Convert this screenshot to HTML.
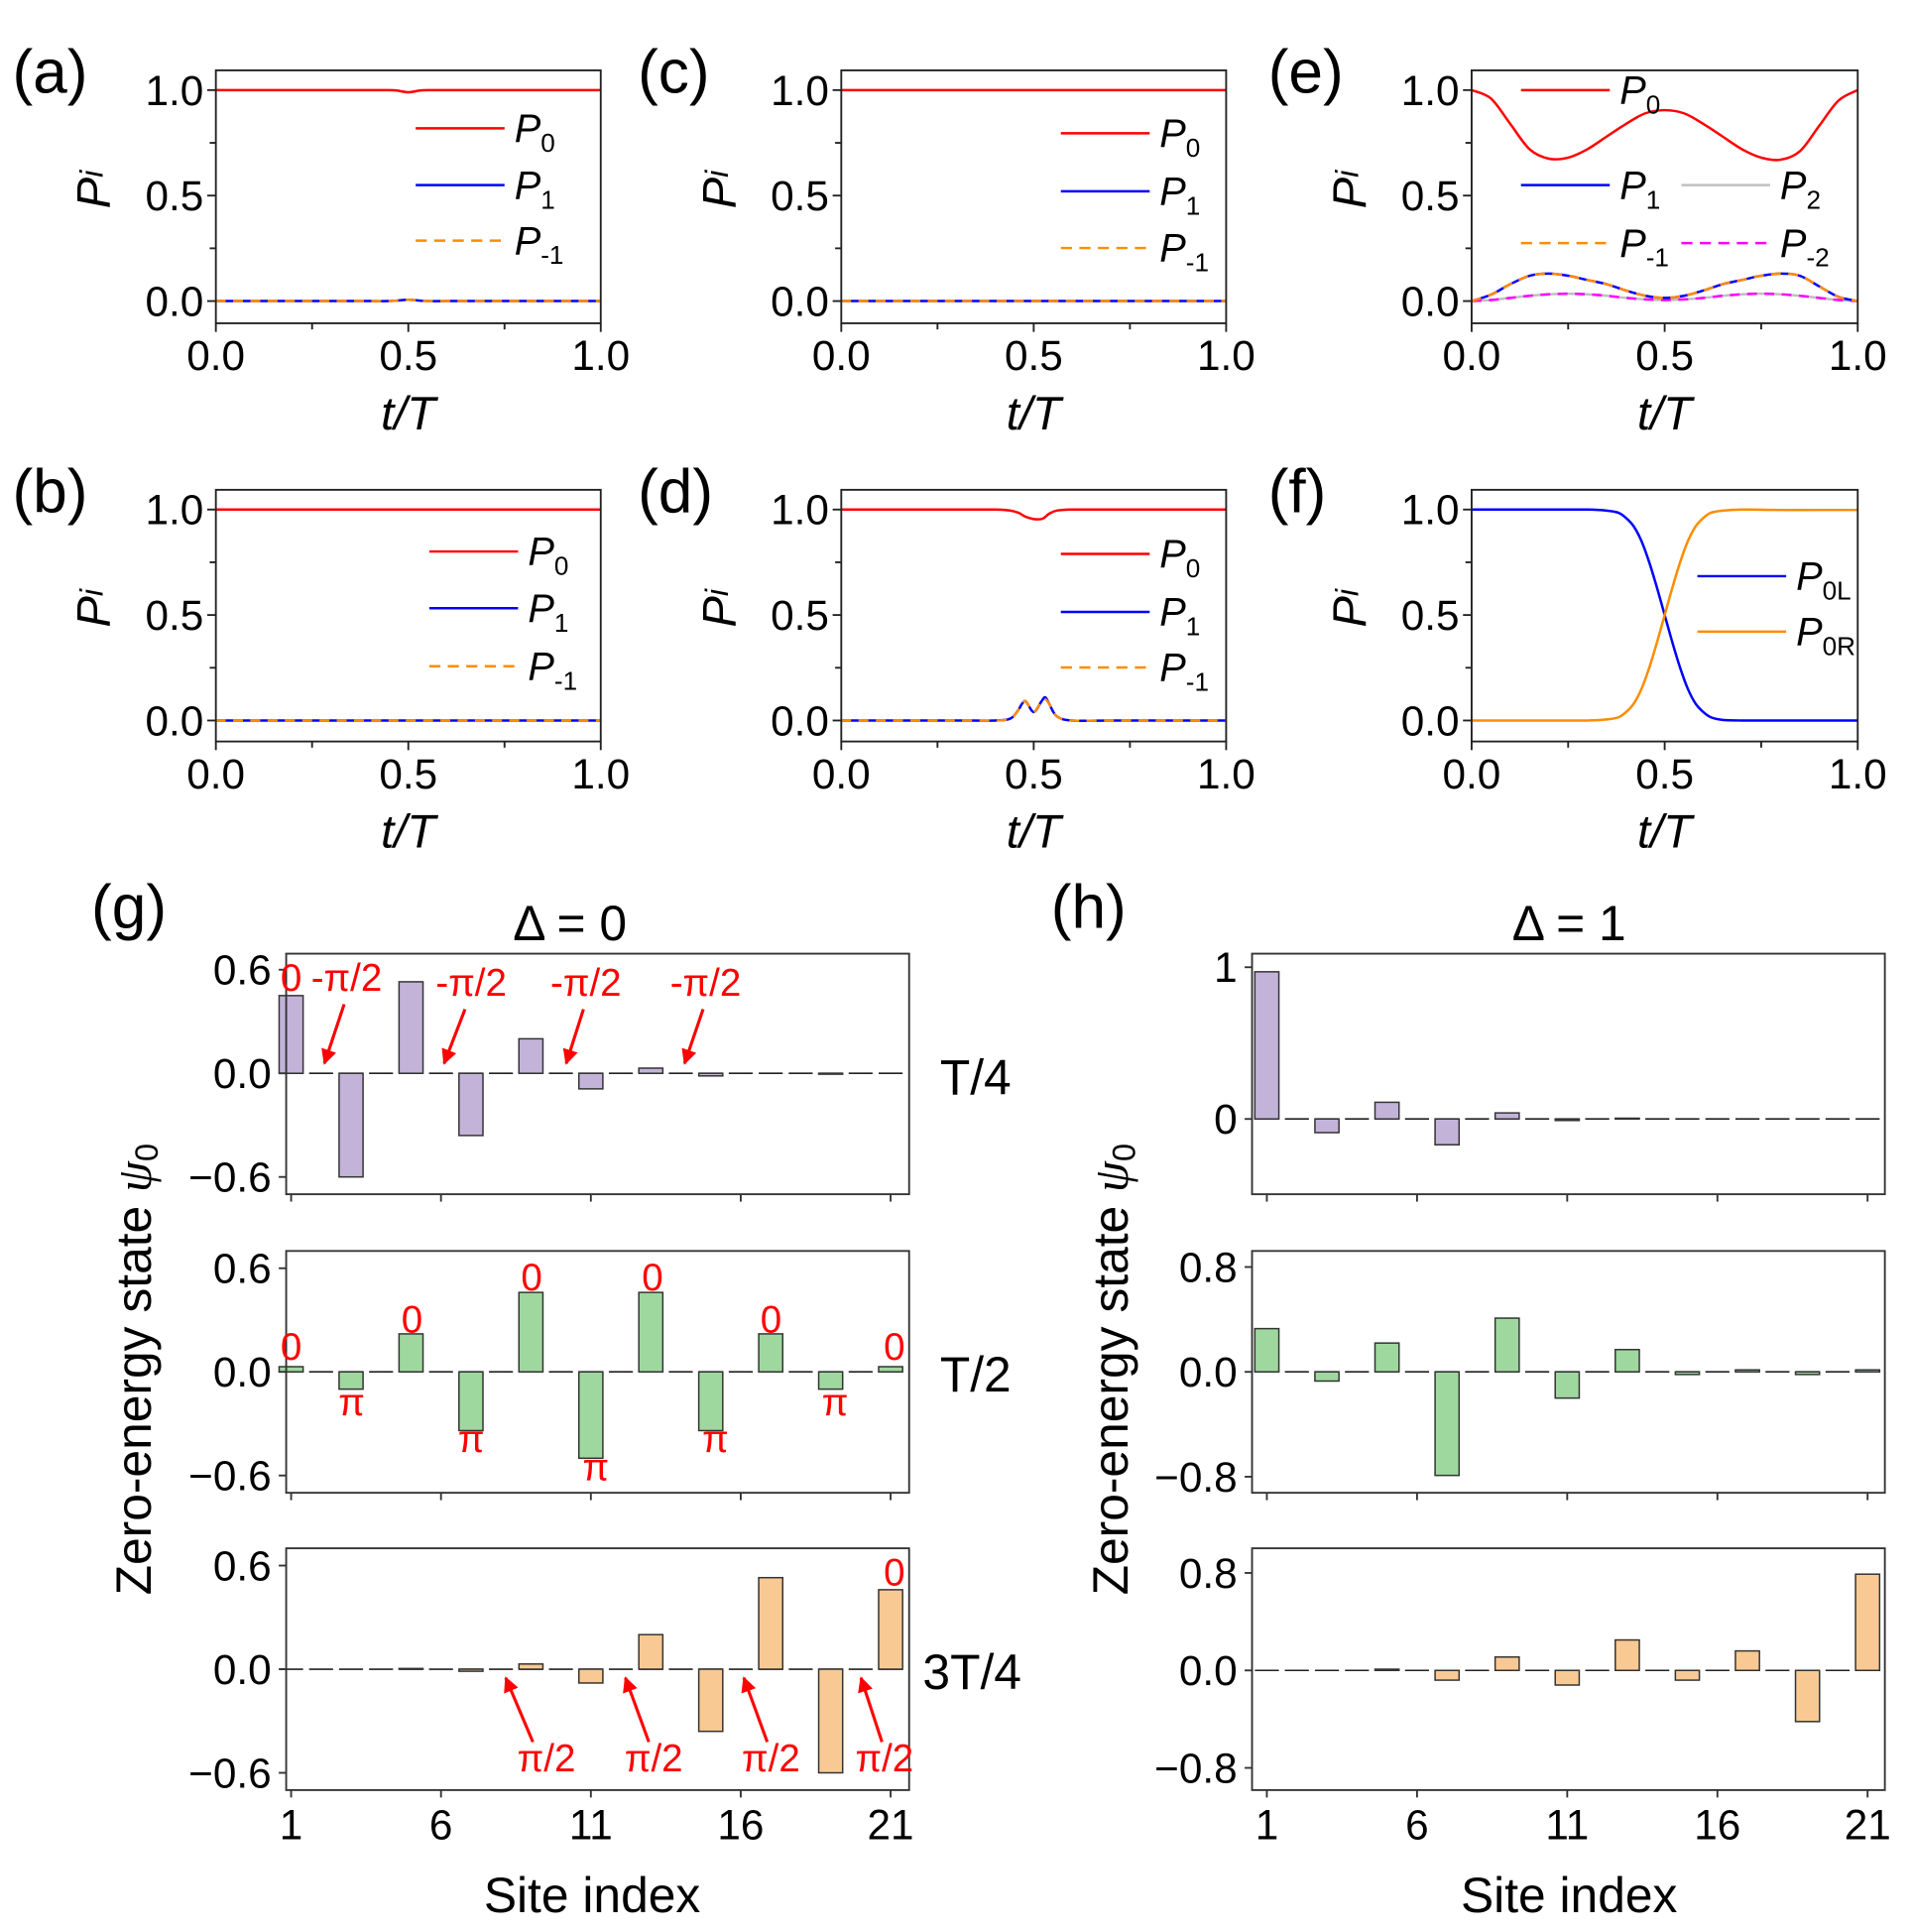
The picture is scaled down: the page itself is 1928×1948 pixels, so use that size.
<!DOCTYPE html>
<html><head><meta charset="utf-8">
<style>
html,body{margin:0;padding:0;background:#fff;}
svg{display:block;font-family:"Liberation Sans",sans-serif;}
</style></head>
<body>
<svg id="fig" width="1928" height="1948" viewBox="0 0 1550 1566" xmlns="http://www.w3.org/2000/svg"></svg>
<script>
// ---------- data ----------
const tA = [0,0.1,0.2,0.3,0.4,0.45,0.47,0.5,0.53,0.55,0.6,0.7,0.8,0.9,1];
const aP0 = [1,1,1,1,1,1,0.998,0.99,0.998,1,1,1,1,1,1];
const aP1 = [0,0,0,0,0,0,0.002,0.006,0.002,0,0,0,0,0,0];
const tB = [0,0.25,0.5,0.75,1];
const bP0 = [1,1,1,1,1];
const bP1 = [0,0,0,0,0];
const tC = [0,0.25,0.5,0.75,1];
const cP0 = [1,1,1,1,1];
const cP1 = [0,0,0,0,0];
const tD = [0,0.1,0.2,0.3,0.4,0.44,0.46,0.47,0.48,0.5,0.52,0.53,0.54,0.56,0.6,0.7,0.8,0.9,1];
const dP0 = [1,1,1,1,1,0.995,0.985,0.975,0.965,0.955,0.955,0.965,0.98,0.995,1,1,1,1,1];
const dP1 = [0,0,0,0,0,0.01,0.05,0.08,0.09,0.04,0.09,0.11,0.08,0.02,0,0,0,0,0];
const dPm1 = [0,0,0,0,0,0.01,0.05,0.08,0.09,0.04,0.09,0.10,0.08,0.02,0,0,0,0,0];
const tE = [0,0.05,0.1,0.15,0.2,0.25,0.3,0.35,0.4,0.45,0.5,0.55,0.6,0.65,0.7,0.75,0.8,0.85,0.9,0.95,1];
const eP0 = [1,0.96,0.84,0.72,0.675,0.68,0.72,0.78,0.84,0.89,0.905,0.89,0.84,0.78,0.72,0.68,0.67,0.71,0.83,0.95,1];
const eP1 = [0,0.03,0.08,0.12,0.13,0.12,0.1,0.08,0.05,0.025,0.015,0.025,0.05,0.08,0.1,0.12,0.13,0.12,0.07,0.02,0];
const eP2 = [0,0.005,0.015,0.025,0.032,0.035,0.032,0.025,0.015,0.008,0.005,0.008,0.015,0.025,0.032,0.035,0.032,0.025,0.015,0.005,0];
const tF = [0,0.1,0.2,0.3,0.35,0.38,0.4,0.42,0.44,0.46,0.48,0.5,0.52,0.54,0.56,0.58,0.6,0.62,0.65,0.7,0.8,0.9,1];
const fP0L = [1,1,1,1,0.995,0.985,0.96,0.92,0.85,0.75,0.63,0.5,0.37,0.25,0.15,0.08,0.04,0.015,0.003,0,0,0,0];
const fP0R = [0,0,0,0,0.005,0.015,0.04,0.08,0.15,0.25,0.37,0.5,0.63,0.75,0.85,0.92,0.96,0.985,0.995,1,0.998,0.998,0.998];
const timeTicks = ["0.0","0.5","1.0"];
const probTicks = ["0.0","0.5","1.0"];

const sites = [1,2,3,4,5,6,7,8,9,10,11,12,13,14,15,16,17,18,19,20,21];
const g1 = [0.45,0,-0.6,0,0.53,0,-0.36,0,0.2,0,-0.09,0,0.03,0,-0.015,0,0,0,-0.005,0,0];
const g2 = [0.03,0,-0.1,0,0.22,0,-0.34,0,0.46,0,-0.5,0,0.46,0,-0.34,0,0.22,0,-0.1,0,0.03];
const g3 = [0,0,0,0,0.004,0,-0.012,0,0.03,0,-0.08,0,0.2,0,-0.36,0,0.53,0,-0.6,0,0.46];
const h1 = [0.97,0,-0.09,0,0.11,0,-0.17,0,0.04,0,-0.01,0,0.005,0,0,0,0,0,0,0,0];
const h2 = [0.33,0,-0.07,0,0.22,0,-0.79,0,0.41,0,-0.2,0,0.17,0,-0.02,0,0.015,0,-0.02,0,0.015];
const h3 = [0,0,0,0,0.01,0,-0.08,0,0.11,0,-0.12,0,0.25,0,-0.08,0,0.16,0,-0.42,0,0.79];
const siteTicks = [1,6,11,16,21];
const gTicks = [-0.6,0,0.6];
const h1Ticks = [0,1];
const h23Ticks = [-0.8,0,0.8];

// ---------- helpers ----------
const NS="http://www.w3.org/2000/svg";
const svg=document.getElementById('fig');
function mk(tag,attrs,parent){const e=document.createElementNS(NS,tag);for(const k in attrs)e.setAttribute(k,attrs[k]);(parent||svg).appendChild(e);return e;}
function txt(x,y,s,size,parent,extra){const e=mk('text',Object.assign({x:x,y:y,'font-size':size,fill:'#000'},extra||{}),parent);e.innerHTML=s;return e;}
function smoothPath(P){
  let d='M'+P[0][0].toFixed(2)+' '+P[0][1].toFixed(2);
  for(let i=0;i<P.length-1;i++){
    const p0=P[Math.max(0,i-1)],p1=P[i],p2=P[i+1],p3=P[Math.min(P.length-1,i+2)];
    const c1x=p1[0]+(p2[0]-p0[0])/6,c1y=p1[1]+(p2[1]-p0[1])/6;
    const c2x=p2[0]-(p3[0]-p1[0])/6,c2y=p2[1]-(p3[1]-p1[1])/6;
    d+=' C'+c1x.toFixed(2)+' '+c1y.toFixed(2)+' '+c2x.toFixed(2)+' '+c2y.toFixed(2)+' '+p2[0].toFixed(2)+' '+p2[1].toFixed(2);
  }
  return d;
}

const pans=[
 {id:'a',x0:175,x1:487,yTop:57,yBot:262,y1:73,y0:244,t:tA,series:[[aP0,'#ff0000',null],[aP1,'#0000ff',null],[aP1,'#ff8c00','8,6']],leg:{x:337,ys:[104,150,195]}},
 {id:'c',x0:682,x1:994,yTop:57,yBot:262,y1:73,y0:244,t:tC,series:[[cP0,'#ff0000',null],[cP1,'#0000ff',null],[cP1,'#ff8c00','8,6']],leg:{x:860,ys:[108,155,201]}},
 {id:'e',x0:1193,x1:1506,yTop:57,yBot:262,y1:73,y0:244,t:tE,series:[[eP0,'#ff0000',null],[eP2,'#c0c0c0',null],[eP2,'#ff00ff','8,6'],[eP1,'#0000ff',null],[eP1,'#ff8c00','8,6']],leg:null},
 {id:'b',x0:175,x1:487,yTop:397,yBot:601,y1:413,y0:584,t:tB,series:[[bP0,'#ff0000',null],[bP1,'#0000ff',null],[bP1,'#ff8c00','8,6']],leg:{x:348,ys:[447,493,540]}},
 {id:'d',x0:682,x1:994,yTop:397,yBot:601,y1:413,y0:584,t:tD,series:[[dP0,'#ff0000',null],[dP1,'#0000ff',null],[dPm1,'#ff8c00','8,6']],leg:{x:860,ys:[449,496,541]}},
 {id:'f',x0:1193,x1:1506,yTop:397,yBot:601,y1:413,y0:584,t:tF,series:[[fP0L,'#0000ff',null],[fP0R,'#ff8c00',null]],leg:null}
];
const subNames={0:'<tspan font-style="italic">P</tspan><tspan font-size="21" dy="8">0</tspan>',1:'<tspan font-style="italic">P</tspan><tspan font-size="21" dy="8">1</tspan>',m1:'<tspan font-style="italic">P</tspan><tspan font-size="21" dy="8">-1</tspan>'};

pans.forEach(p=>{
  const g=mk('g',{});
  
  
  const xs=v=>p.x0+(p.x1-p.x0)*v;
  const ys=v=>p.y0+(p.y1-p.y0)*v;
  p.series.forEach((s,i)=>{
    const pts=p.t.map((t,k)=>[xs(t),ys(s[0][k])]);
    const path=mk('path',{d:smoothPath(pts),fill:'none',stroke:s[1],'stroke-width':2,'stroke-dasharray':s[2]||'none'},g);
    
    
  });
  const fr=mk('rect',{x:p.x0,y:p.yTop,width:p.x1-p.x0,height:p.yBot-p.yTop,fill:'none',stroke:'#222','stroke-width':1.5},g);
  
  
  [0,0.25,0.5,0.75,1].forEach(v=>{const x=xs(v);mk('line',{x1:x,x2:x,y1:p.yBot,y2:p.yBot+(v*4%2==0?7:5),stroke:'#222','stroke-width':1.5},g);});
  [0,0.25,0.5,0.75,1].forEach(v=>{const y=ys(v);mk('line',{x1:p.x0,x2:p.x0-(v*4%2==0?7:5),y1:y,y2:y,stroke:'#222','stroke-width':1.5},g);});
  timeTicks.forEach((s,i)=>{txt(xs(i/2),p.yBot+38,s,34,g,{'text-anchor':'middle'});});
  probTicks.forEach((s,i)=>{txt(p.x0-10,ys(i/2)+12,s,34,g,{'text-anchor':'end'});});
  const xl=txt((p.x0+p.x1)/2,p.yBot+86,'t/T',38,g,{'text-anchor':'middle','font-style':'italic'});
  
  
  const yl=txt(0,0,'P<tspan font-size="26" dy="-6">i</tspan>',38,g,{'font-style':'italic','text-anchor':'middle',transform:'translate('+(p.x0-86)+','+((p.yTop+p.yBot)/2-6)+') rotate(-90)'});
  
  
  const lab=txt(p.x0-165,p.yTop+18,'('+p.id+')',50,g);
  
  
  if(p.leg){
    const cols=['#ff0000','#0000ff','#ff8c00'],nm=[subNames[0],subNames[1],subNames.m1];
    p.leg.ys.forEach((y,i)=>{
      const le=mk('g',{},g);
      
      
      mk('line',{x1:p.leg.x,x2:p.leg.x+72,y1:y,y2:y,stroke:cols[i],'stroke-width':2,'stroke-dasharray':i==2?'9,6':'none'},le);
      txt(p.leg.x+80,y+11,nm[i],32,le);
    });
  }
});
(function(){
  const g=mk('g',{});
  
  
  const items=[[1233,73,'#ff0000',null,'0'],[1233,150,'#0000ff',null,'1'],[1363,150,'#c0c0c0',null,'2'],[1233,197,'#ff8c00','9,6','-1'],[1363,197,'#ff00ff','9,6','-2']];
  items.forEach(it=>{
    mk('line',{x1:it[0],x2:it[0]+72,y1:it[1],y2:it[1],stroke:it[2],'stroke-width':2,'stroke-dasharray':it[3]||'none'},g);
    txt(it[0]+80,it[1]+11,'<tspan font-style="italic">P</tspan><tspan font-size="21" dy="8">'+it[4]+'</tspan>',32,g);
  });
  const g2=mk('g',{});
  
  
  [[467,'#0000ff','0L'],[512,'#ff8c00','0R']].forEach(it=>{
    mk('line',{x1:1376,x2:1448,y1:it[0],y2:it[0],stroke:it[1],'stroke-width':2},g2);
    txt(1456,it[0]+11,'<tspan font-style="italic">P</tspan><tspan font-size="21" dy="8">'+it[2]+'</tspan>',32,g2);
  });
})();

// ---------- bar panels ----------
function barPanel(name,x0,x1,yTop,yBot,xFirst,xLast,yPos,vPos,yZero,vals,ticks,tickFmt,fill,showX){
  const g=mk('g',{});
  
  
  const xs=s=>xFirst+(xLast-xFirst)*(s-1)/20;
  const ys=v=>yZero+(yPos-yZero)*v/vPos;
  const bw=(xLast-xFirst)/20*0.8;
  sites.forEach((s,i)=>{
    const v=vals[i];
    mk('line',{x1:xs(s)-bw/2,x2:xs(s)+bw/2,y1:yZero,y2:yZero,stroke:'#222','stroke-width':1.3},g);
    if(Math.abs(ys(v)-yZero)>0.5){
      const r=mk('rect',{x:xs(s)-bw/2,y:Math.min(ys(v),yZero),width:bw,height:Math.abs(ys(v)-yZero),fill:fill,stroke:'#333','stroke-width':1.2},g);
      
      
    }
  });
  mk('rect',{x:x0,y:yTop,width:x1-x0,height:yBot-yTop,fill:'none',stroke:'#333','stroke-width':1.5},g);
  siteTicks.forEach(s=>{mk('line',{x1:xs(s),x2:xs(s),y1:yBot,y2:yBot+6,stroke:'#333','stroke-width':1.5},g);
    if(showX)txt(xs(s),yBot+40,String(s),34,g,{'text-anchor':'middle'});});
  ticks.forEach(v=>{const y=ys(v);mk('line',{x1:x0,x2:x0-6,y1:y,y2:y,stroke:'#333','stroke-width':1.5},g);
    txt(x0-12,y+12,tickFmt(v),34,g,{'text-anchor':'end'});});
  return g;
}
const fmt1=v=>(v<0?'\u2212':'')+Math.abs(v).toFixed(1);
const fmt0=v=>String(v);
barPanel('bars-g-T4',232,737,773,968,236,722,786,0.6,870,g1,gTicks,fmt1,'#c3b3d9',false);
barPanel('bars-g-T2',232,737,1014,1210,236,722,1028,0.6,1112,g2,gTicks,fmt1,'#9fd89f',false);
barPanel('bars-g-3T4',232,737,1255,1451,236,722,1269,0.6,1353,g3,gTicks,fmt1,'#f9c993',true);
barPanel('bars-h-T4',1015,1528,773,968,1027,1514,784,1,907,h1,h1Ticks,fmt0,'#c3b3d9',false);
barPanel('bars-h-T2',1015,1528,1014,1210,1027,1514,1027,0.8,1112,h2,h23Ticks,fmt1,'#9fd89f',false);
barPanel('bars-h-3T4',1015,1528,1255,1451,1027,1514,1275,0.8,1354,h3,h23Ticks,fmt1,'#f9c993',true);

function t2(x,y,s,size,name,extra){const e=txt(x,y,s,size,svg,extra);return e;}
t2(74,752,'(g)',50,'panel-label-g');
t2(852,752,'(h)',50,'panel-label-h');
t2(462,762,'\u0394 = 0',40,'title-g',{'text-anchor':'middle'});
t2(1272,762,'\u0394 = 1',40,'title-h',{'text-anchor':'middle'});
t2(762,887,'T/4',40,'row-label-T4');
t2(762,1128,'T/2',40,'row-label-T2');
t2(748,1369,'3T/4',40,'row-label-3T4');
t2(480,1550,'Site index',40,'x-axis-title-g',{'text-anchor':'middle'});
t2(1272,1550,'Site index',40,'x-axis-title-h',{'text-anchor':'middle'});
t2(0,0,'Zero-energy state <tspan font-style="italic" font-family="Liberation Serif">\u03C8</tspan><tspan font-size="26" dy="6">0</tspan>',40,'y-axis-title-g',{'text-anchor':'middle',transform:'translate(122,1110) rotate(-90)'});
t2(0,0,'Zero-energy state <tspan font-style="italic" font-family="Liberation Serif">\u03C8</tspan><tspan font-size="26" dy="6">0</tspan>',40,'y-axis-title-h',{'text-anchor':'middle',transform:'translate(914,1110) rotate(-90)'});

const red={fill:'#ff0000','text-anchor':'middle'};
const ann=[[236,803,'0'],[281,803,'-\u03C0/2'],[382,807,'-\u03C0/2'],[475,807,'-\u03C0/2'],[572,807,'-\u03C0/2'],
 [236,1102,'0'],[334,1080,'0'],[431,1046,'0'],[529,1046,'0'],[625,1080,'0'],[725,1102,'0'],
 [285,1147,'\u03C0'],[382,1177,'\u03C0'],[483,1200,'\u03C0'],[580,1177,'\u03C0'],[677,1147,'\u03C0'],
 [725,1285,'0'],[443,1436,'\u03C0/2'],[530,1436,'\u03C0/2'],[625,1436,'\u03C0/2'],[717,1436,'\u03C0/2']];
ann.forEach(a=>{const e=txt(a[0],a[1],a[2],31,svg,red);});
mk('defs',{}).innerHTML='<marker id="ah" viewBox="0 0 10 10" refX="9" refY="5" markerWidth="5" markerHeight="5" orient="auto"><path d="M0,0 L10,5 L0,10 z" fill="#ff0000"/></marker>';
const arrows=[[279,814,263,862],[377,818,360,862],[473,818,459,862],[570,818,555,862],
 [432,1412,410,1360],[526,1412,507,1360],[622,1412,603,1360],[715,1412,698,1360]];
arrows.forEach(a=>{const l=mk('line',{x1:a[0],y1:a[1],x2:a[2],y2:a[3],stroke:'#ff0000','stroke-width':2.5,'marker-end':'url(#ah)'});});
</script>
</body></html>
